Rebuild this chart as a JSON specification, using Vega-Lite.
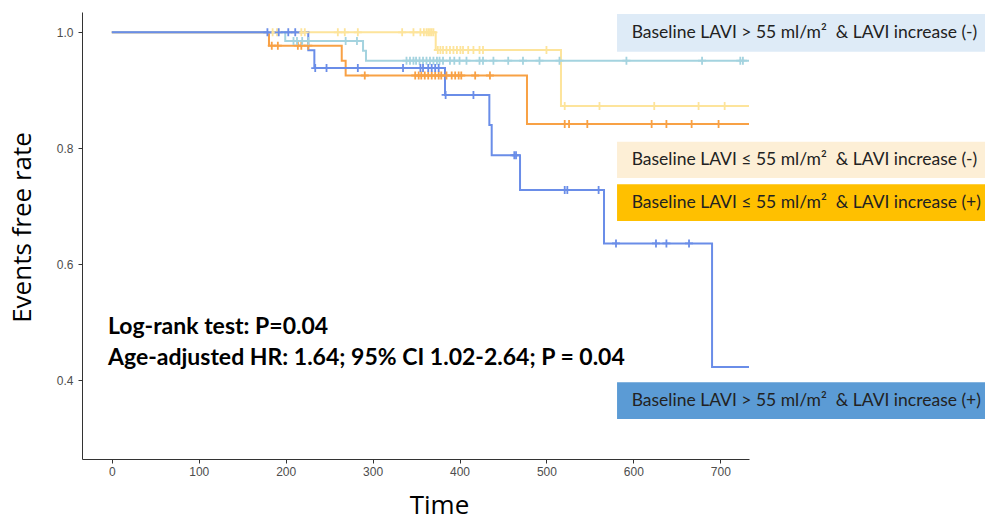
{
  "$schema": "https://vega.github.io/schema/vega-lite/v6.json",
  "width": 667,
  "height": 447,
  "autosize": "none",
  "padding": {"left": 82, "top": 12, "right": 236, "bottom": 64},
  "background": "white",
  "config": {
    "view": {"stroke": null},
    "axis": {
      "grid": false,
      "domainColor": "#333333",
      "domainWidth": 1,
      "tickColor": "#333333",
      "tickSize": 4,
      "labelFont": "Liberation Sans",
      "labelFontSize": 12,
      "labelColor": "#4d4d4d",
      "titleFont": "Open Sans",
      "titleFontSize": 26,
      "titleFontWeight": "normal",
      "titleColor": "#000000"
    }
  },
  "datasets": {
    "curves": [
      {"group": "G2", "t": 0, "s": 1},
      {"group": "G2", "t": 372.6, "s": 0.9695},
      {"group": "G2", "t": 516.7, "s": 0.873},
      {"group": "G2", "t": 733, "s": 0.873},
      {"group": "G3", "t": 0, "s": 1},
      {"group": "G3", "t": 180.8, "s": 0.977},
      {"group": "G3", "t": 264.5, "s": 0.951},
      {"group": "G3", "t": 269, "s": 0.9255},
      {"group": "G3", "t": 477.6, "s": 0.842},
      {"group": "G3", "t": 733, "s": 0.842},
      {"group": "G1", "t": 0, "s": 1},
      {"group": "G1", "t": 199.5, "s": 0.985},
      {"group": "G1", "t": 289, "s": 0.968},
      {"group": "G1", "t": 292.4, "s": 0.951},
      {"group": "G1", "t": 733, "s": 0.951},
      {"group": "G4", "t": 0, "s": 1},
      {"group": "G4", "t": 226, "s": 0.969},
      {"group": "G4", "t": 233, "s": 0.9384},
      {"group": "G4", "t": 383.3, "s": 0.892},
      {"group": "G4", "t": 434.3, "s": 0.84},
      {"group": "G4", "t": 437, "s": 0.788},
      {"group": "G4", "t": 469.6, "s": 0.728},
      {"group": "G4", "t": 566.2, "s": 0.636},
      {"group": "G4", "t": 690.5, "s": 0.423},
      {"group": "G4", "t": 733, "s": 0.423}
    ],
    "censors": [
      {"group": "G2", "t": 185, "s": 1}, {"group": "G2", "t": 190, "s": 1}, {"group": "G2", "t": 218, "s": 1}, {"group": "G2", "t": 222, "s": 1},
      {"group": "G2", "t": 260, "s": 1}, {"group": "G2", "t": 268, "s": 1}, {"group": "G2", "t": 283, "s": 1}, {"group": "G2", "t": 334, "s": 1},
      {"group": "G2", "t": 347, "s": 1}, {"group": "G2", "t": 355, "s": 1}, {"group": "G2", "t": 359, "s": 1}, {"group": "G2", "t": 362, "s": 1},
      {"group": "G2", "t": 364, "s": 1}, {"group": "G2", "t": 366, "s": 1}, {"group": "G2", "t": 368, "s": 1}, {"group": "G2", "t": 370, "s": 1},
      {"group": "G2", "t": 375, "s": 0.9695}, {"group": "G2", "t": 378, "s": 0.9695}, {"group": "G2", "t": 381, "s": 0.9695}, {"group": "G2", "t": 385, "s": 0.9695},
      {"group": "G2", "t": 389, "s": 0.9695}, {"group": "G2", "t": 393, "s": 0.9695}, {"group": "G2", "t": 397, "s": 0.9695}, {"group": "G2", "t": 401, "s": 0.9695},
      {"group": "G2", "t": 404, "s": 0.9695}, {"group": "G2", "t": 410, "s": 0.9695}, {"group": "G2", "t": 416, "s": 0.9695}, {"group": "G2", "t": 423, "s": 0.9695},
      {"group": "G2", "t": 427, "s": 0.9695}, {"group": "G2", "t": 500, "s": 0.9695},
      {"group": "G2", "t": 521, "s": 0.873}, {"group": "G2", "t": 561, "s": 0.873}, {"group": "G2", "t": 624, "s": 0.873}, {"group": "G2", "t": 675, "s": 0.873}, {"group": "G2", "t": 705, "s": 0.873},
      {"group": "G3", "t": 184, "s": 0.977}, {"group": "G3", "t": 191, "s": 0.977}, {"group": "G3", "t": 214, "s": 0.977}, {"group": "G3", "t": 218, "s": 0.977}, {"group": "G3", "t": 226, "s": 0.977},
      {"group": "G3", "t": 291, "s": 0.9255}, {"group": "G3", "t": 349, "s": 0.9255}, {"group": "G3", "t": 353, "s": 0.9255}, {"group": "G3", "t": 356, "s": 0.9255},
      {"group": "G3", "t": 360, "s": 0.9255}, {"group": "G3", "t": 364, "s": 0.9255}, {"group": "G3", "t": 368, "s": 0.9255}, {"group": "G3", "t": 372, "s": 0.9255},
      {"group": "G3", "t": 376, "s": 0.9255}, {"group": "G3", "t": 379, "s": 0.9255}, {"group": "G3", "t": 385, "s": 0.9255}, {"group": "G3", "t": 391, "s": 0.9255},
      {"group": "G3", "t": 395, "s": 0.9255}, {"group": "G3", "t": 399, "s": 0.9255}, {"group": "G3", "t": 402, "s": 0.9255}, {"group": "G3", "t": 418, "s": 0.9255}, {"group": "G3", "t": 435, "s": 0.9255},
      {"group": "G3", "t": 521, "s": 0.842}, {"group": "G3", "t": 526, "s": 0.842}, {"group": "G3", "t": 547, "s": 0.842}, {"group": "G3", "t": 621, "s": 0.842},
      {"group": "G3", "t": 638, "s": 0.842}, {"group": "G3", "t": 667, "s": 0.842}, {"group": "G3", "t": 698, "s": 0.842},
      {"group": "G1", "t": 209, "s": 0.985}, {"group": "G1", "t": 213, "s": 0.985}, {"group": "G1", "t": 219, "s": 0.985}, {"group": "G1", "t": 226, "s": 0.985},
      {"group": "G1", "t": 269, "s": 0.985}, {"group": "G1", "t": 282, "s": 0.985},
      {"group": "G1", "t": 339, "s": 0.951}, {"group": "G1", "t": 343, "s": 0.951}, {"group": "G1", "t": 347, "s": 0.951}, {"group": "G1", "t": 350, "s": 0.951},
      {"group": "G1", "t": 354, "s": 0.951}, {"group": "G1", "t": 358, "s": 0.951}, {"group": "G1", "t": 362, "s": 0.951}, {"group": "G1", "t": 366, "s": 0.951},
      {"group": "G1", "t": 370, "s": 0.951}, {"group": "G1", "t": 374, "s": 0.951}, {"group": "G1", "t": 377, "s": 0.951}, {"group": "G1", "t": 381, "s": 0.951},
      {"group": "G1", "t": 389, "s": 0.951}, {"group": "G1", "t": 394, "s": 0.951}, {"group": "G1", "t": 400, "s": 0.951}, {"group": "G1", "t": 408, "s": 0.951},
      {"group": "G1", "t": 423, "s": 0.951}, {"group": "G1", "t": 427, "s": 0.951}, {"group": "G1", "t": 439, "s": 0.951}, {"group": "G1", "t": 456, "s": 0.951},
      {"group": "G1", "t": 473, "s": 0.951}, {"group": "G1", "t": 492, "s": 0.951}, {"group": "G1", "t": 515, "s": 0.951}, {"group": "G1", "t": 592, "s": 0.951},
      {"group": "G1", "t": 679, "s": 0.951}, {"group": "G1", "t": 723, "s": 0.951}, {"group": "G1", "t": 726, "s": 0.951},
      {"group": "G4", "t": 179, "s": 1}, {"group": "G4", "t": 192, "s": 1}, {"group": "G4", "t": 203, "s": 1}, {"group": "G4", "t": 211, "s": 1},
      {"group": "G4", "t": 234, "s": 0.9384}, {"group": "G4", "t": 247, "s": 0.9384}, {"group": "G4", "t": 283, "s": 0.9384}, {"group": "G4", "t": 335, "s": 0.9384},
      {"group": "G4", "t": 355, "s": 0.9384}, {"group": "G4", "t": 358, "s": 0.9384}, {"group": "G4", "t": 364, "s": 0.9384}, {"group": "G4", "t": 368, "s": 0.9384},
      {"group": "G4", "t": 372, "s": 0.9384}, {"group": "G4", "t": 376, "s": 0.9384},
      {"group": "G4", "t": 384, "s": 0.892}, {"group": "G4", "t": 416, "s": 0.892},
      {"group": "G4", "t": 463, "s": 0.788}, {"group": "G4", "t": 465, "s": 0.788},
      {"group": "G4", "t": 521, "s": 0.728}, {"group": "G4", "t": 524, "s": 0.728}, {"group": "G4", "t": 560, "s": 0.728},
      {"group": "G4", "t": 580, "s": 0.636}, {"group": "G4", "t": 626, "s": 0.636}, {"group": "G4", "t": 638, "s": 0.636}, {"group": "G4", "t": 664, "s": 0.636}
    ],
    "legend": [
      {"group": "G1", "label": "Baseline LAVI > 55 ml/m²\u00a0 & LAVI increase (-)"},
      {"group": "G2", "label": "Baseline LAVI ≤ 55 ml/m²\u00a0 & LAVI increase (-)"},
      {"group": "G3", "label": "Baseline LAVI ≤ 55 ml/m²\u00a0 & LAVI increase (+)"},
      {"group": "G4", "label": "Baseline LAVI > 55 ml/m²\u00a0 & LAVI increase (+)"}
    ],
    "notes": [
      {"id": 1, "text": "Log-rank test: P=0.04"},
      {"id": 2, "text": "Age-adjusted HR: 1.64; 95% CI 1.02-2.64; P = 0.04"}
    ]
  },
  "layer": [
    {
      "data": {"name": "curves"},
      "mark": {"type": "line", "interpolate": "step-after", "strokeWidth": 2, "clip": true},
      "encoding": {
        "x": {"field": "t", "type": "quantitative", "scale": {"domain": [-34.3, 733], "nice": false, "zero": false},
              "axis": {"title": "Time", "values": [0, 100, 200, 300, 400, 500, 600, 700], "labelPadding": 3, "titlePadding": 15, "titleX": 357}},
        "y": {"field": "s", "type": "quantitative", "scale": {"domain": [0.2643, 1.035], "nice": false, "zero": false},
              "axis": {"title": "Events free rate", "values": [0.4, 0.6, 0.8, 1.0], "format": ".1f", "labelPadding": 5, "titlePadding": 21, "titleY": 215}},
        "color": {"field": "group", "type": "nominal", "legend": null,
                  "scale": {"domain": ["G1", "G2", "G3", "G4"], "range": ["#a4d3df", "#fde49b", "#f8a145", "#6a8de8"]}}
      }
    },
    {
      "data": {"name": "censors"},
      "mark": {"type": "point", "shape": "M-1,0L1,0M0,-1L0,1", "filled": false, "strokeWidth": 1.8, "size": 64, "opacity": 1, "clip": true},
      "encoding": {
        "x": {"field": "t", "type": "quantitative", "scale": {"domain": [-34.3, 733], "nice": false, "zero": false}},
        "y": {"field": "s", "type": "quantitative", "scale": {"domain": [0.2643, 1.035], "nice": false, "zero": false}},
        "color": {"field": "group", "type": "nominal", "legend": null,
                  "scale": {"domain": ["G1", "G2", "G3", "G4"], "range": ["#a4d3df", "#fde49b", "#f8a145", "#6a8de8"]}}
      }
    },
    {
      "data": {"name": "notes"},
      "transform": [{"filter": "datum.id == 1"}],
      "mark": {"type": "text", "align": "left", "baseline": "middle", "font": "Lato", "fontSize": 23, "fontWeight": "bold", "color": "#000000"},
      "encoding": {
        "x": {"datum": -4.4, "type": "quantitative"},
        "y": {"datum": 0.4919, "type": "quantitative"},
        "text": {"field": "text"}
      }
    },
    {
      "data": {"name": "notes"},
      "transform": [{"filter": "datum.id == 2"}],
      "mark": {"type": "text", "align": "left", "baseline": "middle", "font": "Lato", "fontSize": 23, "fontWeight": "bold", "color": "#000000"},
      "encoding": {
        "x": {"datum": -4.4, "type": "quantitative"},
        "y": {"datum": 0.4384, "type": "quantitative"},
        "text": {"field": "text"}
      }
    },
    {
      "data": {"name": "legend"},
      "transform": [{"filter": "datum.group == 'G1'"}],
      "mark": {"type": "rect", "color": "#deebf7"},
      "encoding": {
        "x": {"datum": 581.2, "type": "quantitative"}, "x2": {"datum": 1004.5},
        "y": {"datum": 1.0316, "type": "quantitative"}, "y2": {"datum": 0.9666}
      }
    },
    {
      "data": {"name": "legend"},
      "transform": [{"filter": "datum.group == 'G1'"}],
      "mark": {"type": "text", "align": "left", "baseline": "middle", "font": "Lato", "fontSize": 17.5, "color": "#222222"},
      "encoding": {
        "x": {"datum": 598, "type": "quantitative"},
        "y": {"datum": 0.9991, "type": "quantitative"},
        "text": {"field": "label"}
      }
    },
    {
      "data": {"name": "legend"},
      "transform": [{"filter": "datum.group == 'G2'"}],
      "mark": {"type": "rect", "color": "#fdefd6"},
      "encoding": {
        "x": {"datum": 581.2, "type": "quantitative"}, "x2": {"datum": 1004.5},
        "y": {"datum": 0.8114, "type": "quantitative"}, "y2": {"datum": 0.7488}
      }
    },
    {
      "data": {"name": "legend"},
      "transform": [{"filter": "datum.group == 'G2'"}],
      "mark": {"type": "text", "align": "left", "baseline": "middle", "font": "Lato", "fontSize": 17.5, "color": "#222222"},
      "encoding": {
        "x": {"datum": 598, "type": "quantitative"},
        "y": {"datum": 0.7801, "type": "quantitative"},
        "text": {"field": "label"}
      }
    },
    {
      "data": {"name": "legend"},
      "transform": [{"filter": "datum.group == 'G3'"}],
      "mark": {"type": "rect", "color": "#ffc000"},
      "encoding": {
        "x": {"datum": 581.2, "type": "quantitative"}, "x2": {"datum": 1004.5},
        "y": {"datum": 0.7379, "type": "quantitative"}, "y2": {"datum": 0.6747}
      }
    },
    {
      "data": {"name": "legend"},
      "transform": [{"filter": "datum.group == 'G3'"}],
      "mark": {"type": "text", "align": "left", "baseline": "middle", "font": "Lato", "fontSize": 17.5, "color": "#222222"},
      "encoding": {
        "x": {"datum": 598, "type": "quantitative"},
        "y": {"datum": 0.7063, "type": "quantitative"},
        "text": {"field": "label"}
      }
    },
    {
      "data": {"name": "legend"},
      "transform": [{"filter": "datum.group == 'G4'"}],
      "mark": {"type": "rect", "color": "#5b9bd5"},
      "encoding": {
        "x": {"datum": 581.2, "type": "quantitative"}, "x2": {"datum": 1004.5},
        "y": {"datum": 0.3966, "type": "quantitative"}, "y2": {"datum": 0.3333}
      }
    },
    {
      "data": {"name": "legend"},
      "transform": [{"filter": "datum.group == 'G4'"}],
      "mark": {"type": "text", "align": "left", "baseline": "middle", "font": "Lato", "fontSize": 17.5, "color": "#222222"},
      "encoding": {
        "x": {"datum": 598, "type": "quantitative"},
        "y": {"datum": 0.365, "type": "quantitative"},
        "text": {"field": "label"}
      }
    }
  ]
}
